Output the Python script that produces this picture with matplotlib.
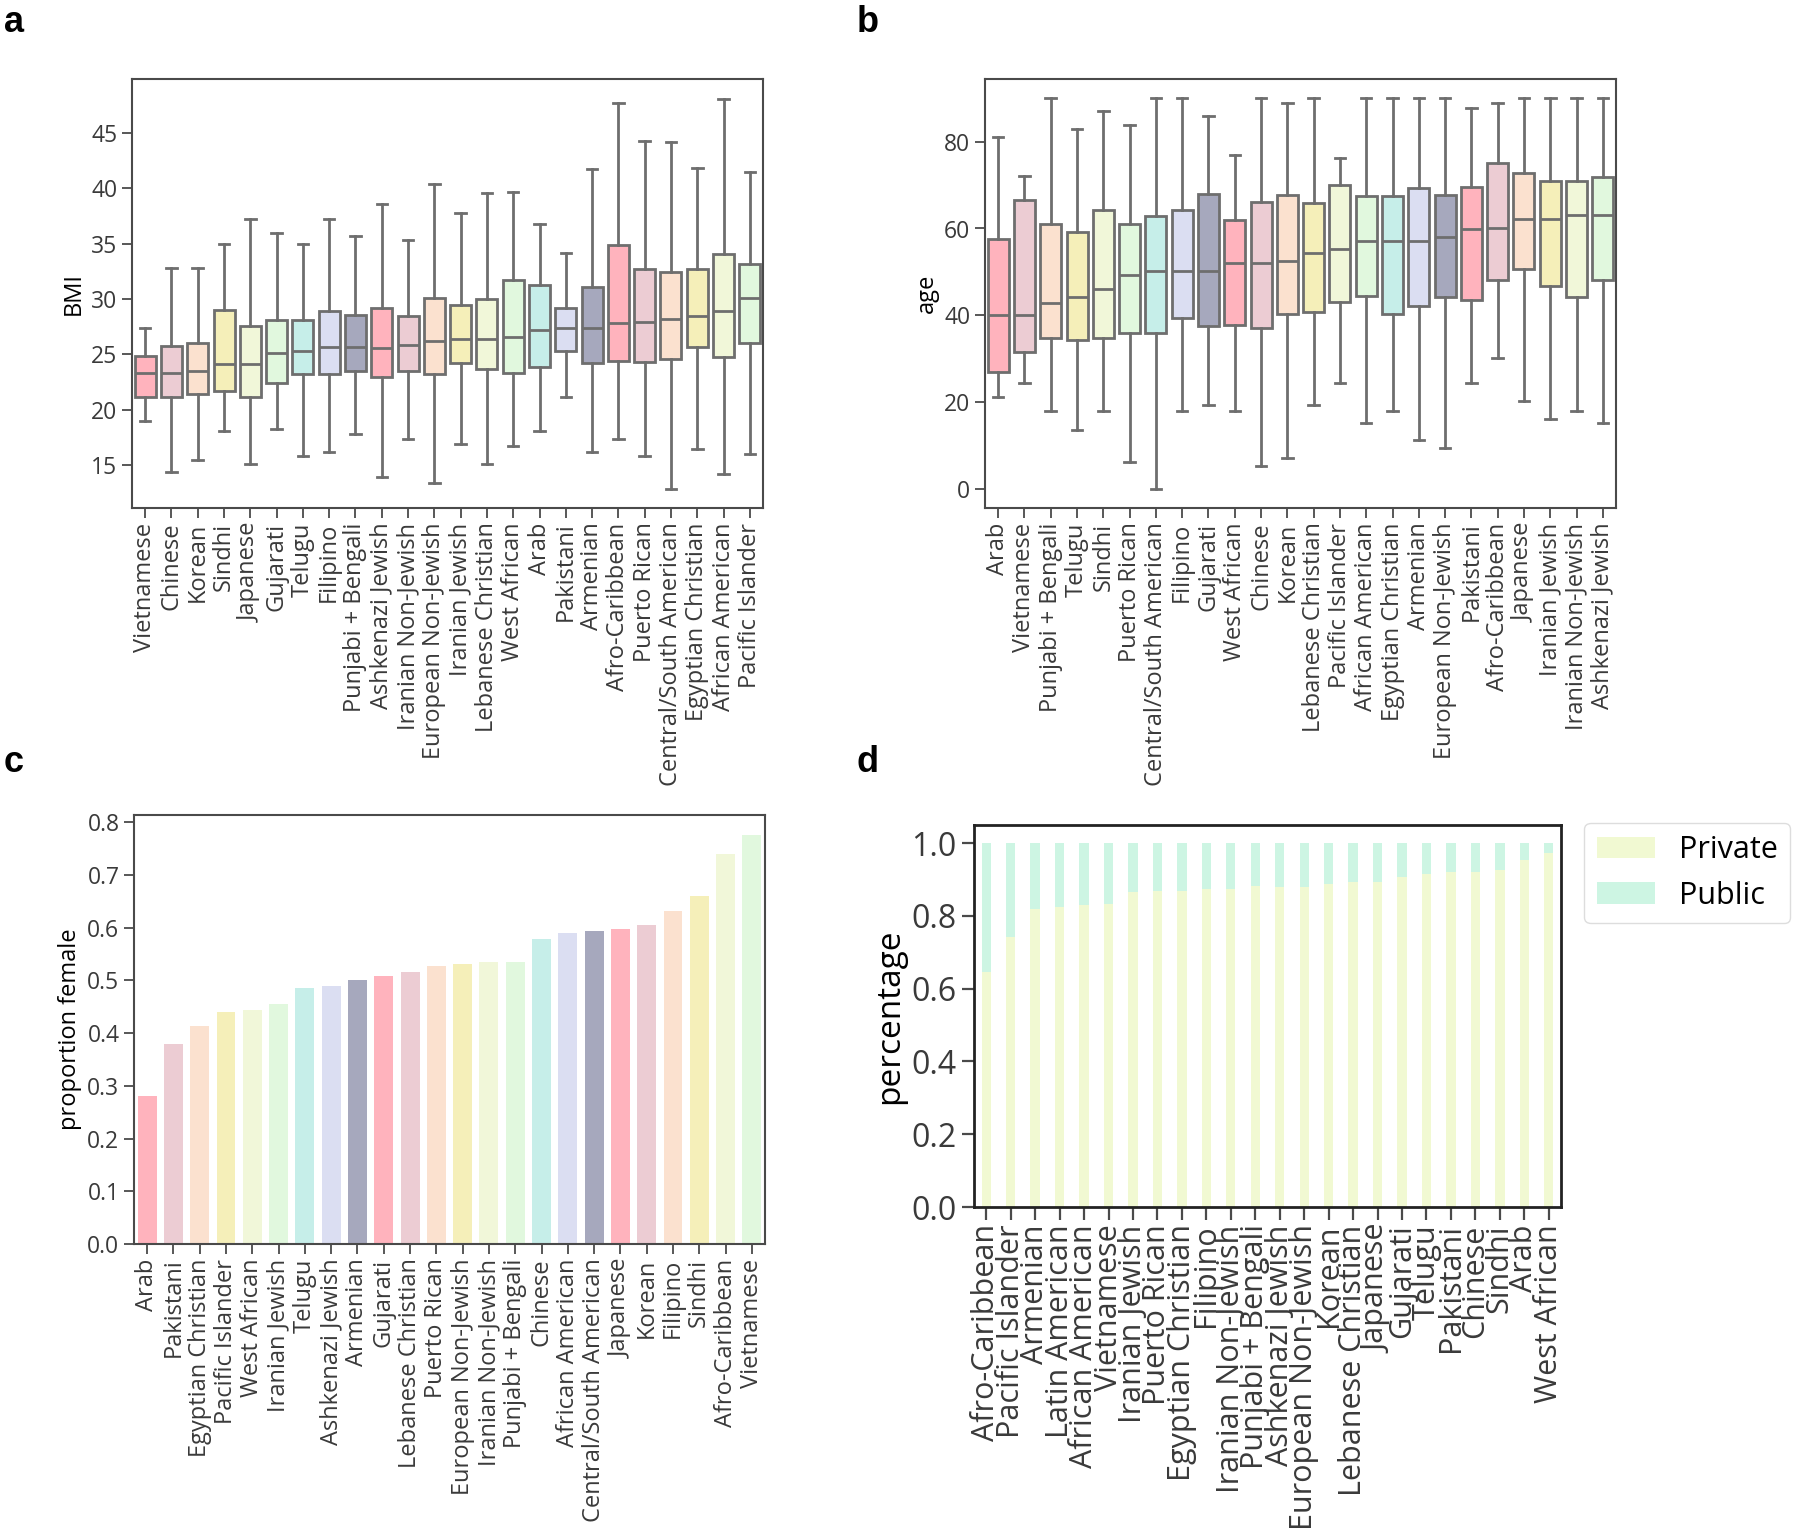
import matplotlib
matplotlib.use('Agg')
import matplotlib.pyplot as plt
import numpy as np

# set font
plt.rcParams['font.family'] = ['Open Sans', 'DejaVu Sans']
plt.rcParams['axes.edgecolor'] = '#4a4a4a'
plt.rcParams['axes.linewidth'] = 1.5
plt.rcParams['xtick.color'] = '#4a4a4a'
plt.rcParams['ytick.color'] = '#4a4a4a'
plt.rcParams['xtick.labelcolor'] = '#3a3a3a'
plt.rcParams['ytick.labelcolor'] = '#3a3a3a'

palette = ['#ffb3bd', '#ecccd3', '#fbe1cf', '#f5efb9', '#f1f7d9',
           '#e1f8de', '#c6eee9', '#dbdef2', '#a6a8bd']

# panel a: BMI box summaries
bmi_groups = ['Vietnamese', 'Chinese', 'Korean', 'Sindhi', 'Japanese', 'Gujarati',
              'Telugu', 'Filipino', 'Punjabi + Bengali', 'Ashkenazi Jewish',
              'Iranian Non-Jewish', 'European Non-Jewish', 'Iranian Jewish',
              'Lebanese Christian', 'West African', 'Arab', 'Pakistani', 'Armenian',
              'Afro-Caribbean', 'Puerto Rican', 'Central/South American',
              'Egyptian Christian', 'African American', 'Pacific Islander']
bmi_low = [19.0, 14.4, 15.5, 18.1, 15.1, 18.3, 15.8, 16.2, 17.8, 13.9, 17.4, 13.4,
           16.9, 15.1, 16.7, 18.1, 21.2, 16.2, 17.4, 15.8, 12.9, 16.5, 14.2, 16.0]
bmi_q1 = [21.15, 21.15, 21.4, 21.7, 21.2, 22.4, 23.2, 23.2, 23.5, 23.0, 23.5, 23.2,
          24.2, 23.7, 23.3, 23.9, 25.3, 24.2, 24.4, 24.35, 24.6, 25.7, 24.8, 26.0]
bmi_med = [23.3, 23.35, 23.5, 24.1, 24.1, 25.1, 25.3, 25.7, 25.7, 25.6, 25.85, 26.2,
           26.4, 26.4, 26.6, 27.2, 27.4, 27.4, 27.8, 27.9, 28.2, 28.45, 28.9, 30.1]
bmi_q3 = [24.9, 25.8, 26.0, 29.05, 27.6, 28.1, 28.1, 28.9, 28.6, 29.2, 28.45, 30.1,
          29.5, 30.0, 31.7, 31.3, 29.2, 31.1, 34.9, 32.7, 32.4, 32.7, 34.05, 33.15]
bmi_high = [27.4, 32.8, 32.8, 35.0, 37.2, 36.0, 35.0, 37.2, 35.65, 38.6, 35.3, 40.4,
            37.8, 39.6, 39.7, 36.8, 34.2, 41.7, 47.7, 44.3, 44.2, 41.8, 48.1, 41.5]

# panel b: age box summaries
age_groups = ['Arab', 'Vietnamese', 'Punjabi + Bengali', 'Telugu', 'Sindhi',
              'Puerto Rican', 'Central/South American', 'Filipino', 'Gujarati',
              'West African', 'Chinese', 'Korean', 'Lebanese Christian',
              'Pacific Islander', 'African American', 'Egyptian Christian', 'Armenian',
              'European Non-Jewish', 'Pakistani', 'Afro-Caribbean', 'Japanese',
              'Iranian Jewish', 'Iranian Non-Jewish', 'Ashkenazi Jewish']
age_low = [21.2, 24.4, 18.0, 13.4, 18.0, 6.1, 0.0, 18.0, 19.3, 18.0, 5.2, 7.0,
           19.3, 24.4, 15.2, 18.0, 11.2, 9.3, 24.4, 30.2, 20.2, 16.1, 18.0, 15.2]
age_q1 = [27.0, 31.4, 34.8, 34.3, 34.8, 36.0, 36.0, 39.3, 37.5, 37.8, 37.1, 40.2,
          40.7, 43.0, 44.4, 40.2, 42.1, 44.2, 43.5, 48.1, 50.7, 46.8, 44.2, 48.1]
age_med = [40.1, 40.1, 42.9, 44.2, 46.1, 49.3, 50.2, 50.2, 50.2, 52.1, 52.1, 52.6,
           54.4, 55.3, 57.1, 57.1, 57.1, 58.0, 59.8, 60.2, 62.1, 62.1, 63.1, 63.1]
age_q3 = [57.5, 66.5, 61.1, 59.2, 64.3, 61.1, 62.8, 64.2, 67.9, 62.0, 66.1, 67.8,
          65.8, 70.0, 67.6, 67.6, 69.3, 67.8, 69.6, 75.2, 72.7, 70.9, 70.9, 71.9]
age_high = [81.2, 72.0, 90.0, 83.0, 87.0, 83.9, 90.0, 90.0, 86.0, 77.0, 90.0, 88.9,
            90.0, 76.2, 90.0, 90.0, 90.0, 90.0, 87.8, 88.9, 90.0, 90.0, 90.0, 90.0]

# panel c: proportion female
fem_groups = ['Arab', 'Pakistani', 'Egyptian Christian', 'Pacific Islander',
              'West African', 'Iranian Jewish', 'Telugu', 'Ashkenazi Jewish',
              'Armenian', 'Gujarati', 'Lebanese Christian', 'Puerto Rican',
              'European Non-Jewish', 'Iranian Non-Jewish', 'Punjabi + Bengali',
              'Chinese', 'African American', 'Central/South American', 'Japanese',
              'Korean', 'Filipino', 'Sindhi', 'Afro-Caribbean', 'Vietnamese']
fem_values = [0.280, 0.380, 0.414, 0.440, 0.444, 0.456, 0.485, 0.489, 0.500, 0.508,
              0.516, 0.527, 0.531, 0.534, 0.534, 0.579, 0.590, 0.594, 0.598, 0.606,
              0.631, 0.661, 0.740, 0.775]

# panel d: insurance
ins_groups = ['Afro-Caribbean', 'Pacific Islander', 'Armenian', 'Latin American',
              'African American', 'Vietnamese', 'Iranian Jewish', 'Puerto Rican',
              'Egyptian Christian', 'Filipino', 'Iranian Non-Jewish',
              'Punjabi + Bengali', 'Ashkenazi Jewish', 'European Non-Jewish', 'Korean',
              'Lebanese Christian', 'Japanese', 'Gujarati', 'Telugu', 'Pakistani',
              'Chinese', 'Sindhi', 'Arab', 'West African']
private = [0.646, 0.742, 0.818, 0.824, 0.829, 0.834, 0.865, 0.868, 0.869, 0.873,
           0.875, 0.883, 0.880, 0.880, 0.889, 0.894, 0.894, 0.908, 0.916, 0.920,
           0.920, 0.925, 0.954, 0.974]
public = [1 - p for p in private]

W, H = 1800, 1540
fig = plt.figure(figsize=(W / 100, H / 100), dpi=100)


def px_axes(left, top, right, bottom):
    return fig.add_axes([left / W, 1 - bottom / H, (right - left) / W, (bottom - top) / H])


def draw_boxes(ax, groups, low, q1, med, q3, high, ylabel):
    stats = []
    for i in range(len(groups)):
        stats.append({'whislo': low[i], 'q1': q1[i], 'med': med[i],
                      'q3': q3[i], 'whishi': high[i], 'fliers': []})
    lc = '#6e6e6e'
    bp = ax.bxp(stats, positions=np.arange(len(groups)), widths=0.8,
                patch_artist=True, showfliers=False, capwidths=0.4,
                boxprops=dict(edgecolor=lc, linewidth=2),
                whiskerprops=dict(color=lc, linewidth=2),
                capprops=dict(color=lc, linewidth=2),
                medianprops=dict(color=lc, linewidth=2))
    for i, box in enumerate(bp['boxes']):
        box.set_facecolor(palette[i % len(palette)])
    ax.set_xlim(-0.5, len(groups) - 0.5)
    ax.set_xticks(np.arange(len(groups)))
    ax.set_xticklabels(groups, rotation=90, fontsize=17)
    ax.tick_params(axis='y', labelsize=16.5)
    ax.tick_params(length=7, width=1.3)
    ax.set_ylabel(ylabel, fontsize=17)


# panel a
ax_a = px_axes(132, 79, 763, 508)
draw_boxes(ax_a, bmi_groups, bmi_low, bmi_q1, bmi_med, bmi_q3, bmi_high, 'BMI')
ax_a.set_yticks([15, 20, 25, 30, 35, 40, 45])

# panel b
ax_b = px_axes(985, 79, 1616, 508)
draw_boxes(ax_b, age_groups, age_low, age_q1, age_med, age_q3, age_high, 'age')
ax_b.set_yticks([0, 20, 40, 60, 80])

# panel c
ax_c = px_axes(134, 815, 765, 1244)
x_c = np.arange(len(fem_groups))
ax_c.bar(x_c, fem_values, width=0.72,
         color=[palette[i % len(palette)] for i in range(len(fem_groups))])
ax_c.set_xlim(-0.5, len(fem_groups) - 0.5)
ax_c.set_xticks(x_c)
ax_c.set_xticklabels(fem_groups, rotation=90, fontsize=17)
ax_c.set_yticks(np.arange(0, 0.81, 0.1))
ax_c.set_yticklabels(['%.1f' % v for v in np.arange(0, 0.81, 0.1)])
ax_c.tick_params(axis='y', labelsize=16.5)
ax_c.tick_params(length=7, width=1.3)
ax_c.set_ylabel('proportion female', fontsize=17)

# panel d
ax_d = px_axes(974, 825, 1561, 1207)
x_d = np.arange(len(ins_groups))
ax_d.bar(x_d, private, width=0.38, color='#f1f9d2', label='Private')
ax_d.bar(x_d, public, width=0.38, bottom=private, color='#cdf5e3', label='Public')
ax_d.set_xlim(-0.5, len(ins_groups) - 0.5)
ax_d.set_xticks(x_d)
ax_d.set_xticklabels(ins_groups, rotation=90, fontsize=22, linespacing=0.9)
ax_d.set_yticks(np.arange(0, 1.01, 0.2))
ax_d.set_yticklabels(['%.1f' % v for v in np.arange(0, 1.01, 0.2)])
ax_d.tick_params(axis='y', labelsize=23)
ax_d.tick_params(length=9, width=1.6)
for s in ax_d.spines.values():
    s.set_linewidth(2)
    s.set_edgecolor('#222222')
ax_d.set_ylabel('percentage', fontsize=24)
ax_d.legend(loc='upper left', bbox_to_anchor=(1.04, 1.005), borderaxespad=0,
            fontsize=22, edgecolor='#dddddd', framealpha=1, handlelength=1.9)

# panel letters
for letter, xp, yp in [('a', 4, 32), ('b', 857, 32), ('c', 4, 772), ('d', 857, 772)]:
    fig.text(xp / W, 1 - yp / H, letter, fontsize=26, fontweight='bold',
             family='Liberation Sans', va='baseline', ha='left')

# save picture
plt.savefig('out.png', dpi=100)
